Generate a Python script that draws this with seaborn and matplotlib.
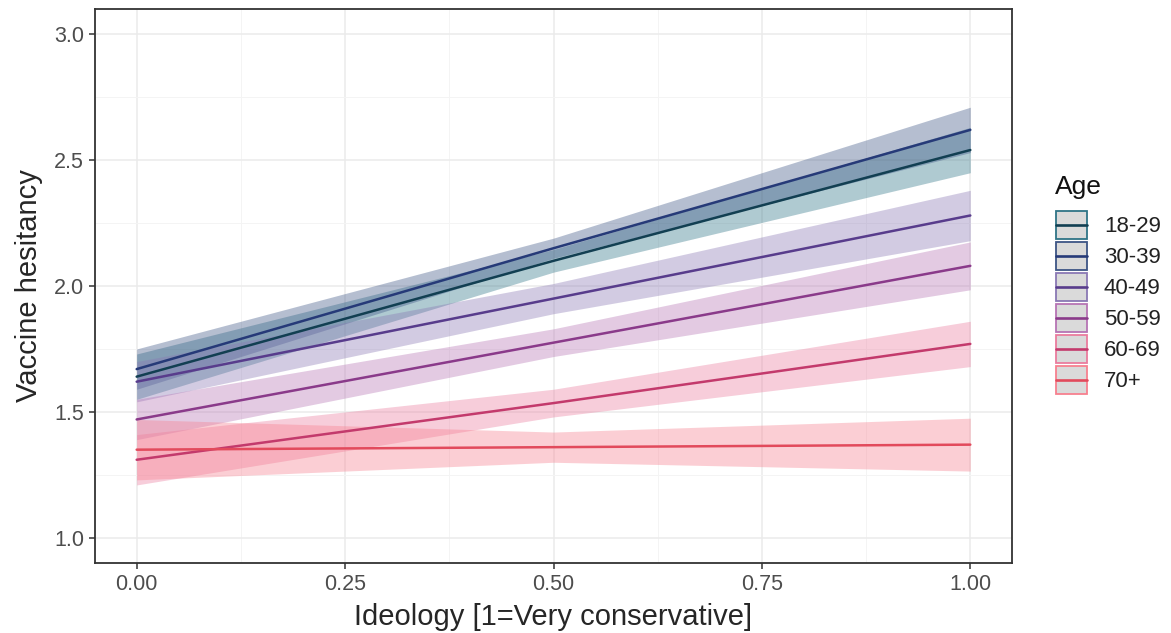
import pandas as pd
import seaborn as sns
import matplotlib.pyplot as plt
from matplotlib.patches import Rectangle
from matplotlib.lines import Line2D
from matplotlib.ticker import MultipleLocator

ideology = [0.0, 0.5, 1.0]
ages = ['18-29', '30-39', '40-49', '50-59', '60-69', '70+']

# fitted vaccine hesitancy per age group
fit_18_29 = [1.64, 2.10, 2.54]
fit_30_39 = [1.67, 2.15, 2.62]
fit_40_49 = [1.62, 1.95, 2.28]
fit_50_59 = [1.47, 1.775, 2.08]
fit_60_69 = [1.31, 1.535, 1.77]
fit_70p = [1.35, 1.36, 1.37]

# half width of the confidence band
ci_18_29 = [0.09, 0.045, 0.09]
ci_30_39 = [0.08, 0.04, 0.09]
ci_40_49 = [0.08, 0.06, 0.10]
ci_50_59 = [0.08, 0.055, 0.095]
ci_60_69 = [0.10, 0.055, 0.09]
ci_70p = [0.12, 0.06, 0.105]

fits = [fit_18_29, fit_30_39, fit_40_49, fit_50_59, fit_60_69, fit_70p]
cis = [ci_18_29, ci_30_39, ci_40_49, ci_50_59, ci_60_69, ci_70p]

line_colors = ['#123f52', '#263a78', '#583c8c', '#8a3a8a', '#c33a6c', '#e24a5c']
fill_colors = ['#2f7486', '#3d5585', '#8a78b4', '#b674b4', '#ea7c9e', '#f7808f']

rows = []
for age, f, c in zip(ages, fits, cis):
    for x, y, h in zip(ideology, f, c):
        rows.append({'ideology': x, 'fit': y, 'lo': y - h, 'hi': y + h, 'age': age})
df = pd.DataFrame(rows)


class KeyHandler:
    # ggplot-like key: grey box with coloured border and a line across the middle
    def legend_artist(self, legend, orig_handle, fontsize, handlebox):
        x0, y0 = -handlebox.xdescent, -handlebox.ydescent
        w, h = handlebox.width, handlebox.height
        rect = Rectangle((x0, y0), w, h, facecolor='#dadada', edgecolor=orig_handle.key_edge,
                         lw=1.3, transform=handlebox.get_transform())
        line = Line2D([x0, x0 + w], [y0 + h / 2, y0 + h / 2], color=orig_handle.get_color(),
                      lw=1.9, transform=handlebox.get_transform())
        handlebox.add_artist(rect)
        handlebox.add_artist(line)
        return rect


sns.set_theme(style="whitegrid")
plt.rcParams['font.family'] = ['Liberation Sans', 'DejaVu Sans']

fig = plt.figure(figsize=(11.71, 6.33), dpi=100)
ax = fig.add_axes([95/1171, 1-563/633, (1012-95)/1171, (563-9)/633])

for age, fc in zip(ages, fill_colors):
    d = df[df.age == age]
    ax.fill_between(d.ideology, d.lo, d.hi, color=fc, alpha=0.38, lw=0, zorder=2)

sns.lineplot(data=df, x='ideology', y='fit', hue='age', hue_order=ages,
             palette=line_colors, errorbar=None, legend=False, lw=1.8, ax=ax, zorder=3)

ax.set_xlim(-0.05, 1.05)
ax.set_ylim(0.9, 3.1)
ax.set_xticks([0, 0.25, 0.5, 0.75, 1.0])
ax.set_xticklabels(['0.00', '0.25', '0.50', '0.75', '1.00'])
ax.set_yticks([1.0, 1.5, 2.0, 2.5, 3.0])
ax.set_yticklabels(['1.0', '1.5', '2.0', '2.5', '3.0'])
ax.xaxis.set_minor_locator(MultipleLocator(0.125))
ax.yaxis.set_minor_locator(MultipleLocator(0.25))
ax.grid(which='major', color='#ebebeb', lw=1.1)
ax.grid(which='minor', color='#f4f4f4', lw=0.7)
ax.set_axisbelow(True)
for s in ax.spines.values():
    s.set_visible(True)
    s.set_color('#333333')
    s.set_linewidth(1.3)
ax.tick_params(which='major', length=4, width=1.1, color='#333333', labelsize=15.5,
               labelcolor='#4d4d4d', bottom=True, left=True, pad=4)
ax.tick_params(which='minor', length=0)
ax.set_xlabel('Ideology [1=Very conservative]', fontsize=21, labelpad=6)
ax.set_ylabel('Vaccine hesitancy', fontsize=21, labelpad=8)

handles = []
for lc, fc in zip(line_colors, fill_colors):
    hd = Line2D([], [], color=lc)
    hd.key_edge = fc
    handles.append(hd)

fig.text(1055/1171, 1-187/633, 'Age', fontsize=19, va='center', ha='left', color='#111111')
leg = fig.legend(handles, ages, loc='upper left', bbox_to_anchor=(1056/1171, 1-211/633),
                 handler_map={Line2D: KeyHandler()}, frameon=False, fontsize=16,
                 borderpad=0, borderaxespad=0, handlelength=1.4, handleheight=1.56,
                 labelspacing=0.135, handletextpad=0.75)
for t in leg.get_texts():
    t.set_color('#222222')

fig.savefig('out.png', dpi=100)
